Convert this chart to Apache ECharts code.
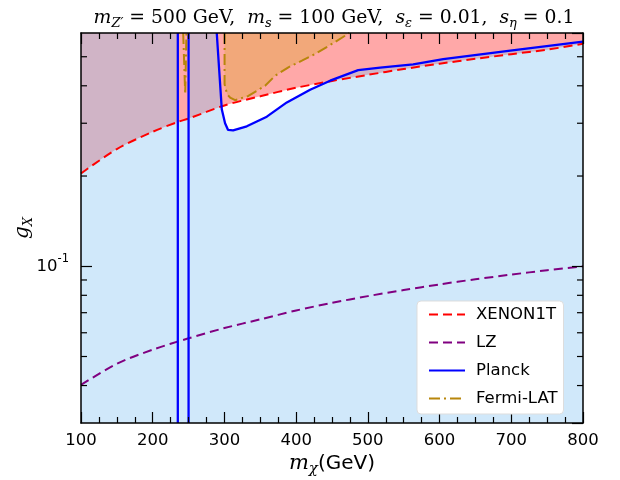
<!DOCTYPE html>
<html><head><meta charset="utf-8">
<script src="https://cdn.jsdelivr.net/npm/echarts@6/dist/echarts.min.js"></script>
<style>html,body{margin:0;padding:0;background:#fff}#c{width:620px;height:480px}</style>
</head><body><div id="c"></div>
<script>
// ---- axis ranges / ticks ----
const xRange = [100, 800];
const yRange = [0.03, 0.6];
const yMajorTick = 0.1;
const yMinorTicks = [0.04, 0.05, 0.06, 0.07, 0.08, 0.09, 0.2, 0.3, 0.4, 0.5];

// ---- XENON1T ----
const xenonX = [100, 150, 200, 235, 250, 300, 350, 400, 450, 500, 550, 600, 650, 700, 750, 800];
const xenonY = [0.204, 0.246, 0.281, 0.303, 0.311, 0.344, 0.369, 0.394, 0.415, 0.435, 0.455, 0.474, 0.492, 0.510, 0.528, 0.552];

// ---- LZ ----
const lzX = [100, 150, 200, 250, 300, 350, 400, 450, 500, 550, 600, 650, 700, 750, 800];
const lzY = [0.0402, 0.0473, 0.0527, 0.0575, 0.0622, 0.0665, 0.0712, 0.0755, 0.0795, 0.0833, 0.0870, 0.0905, 0.0938, 0.0970, 0.1000];

// ---- Planck (resonance funnel edges + right branch) ----
const planckFunnelX = [235, 250];
const planckX = [289.3, 292.6, 296.3, 300.9, 305.1, 312.1, 331.2, 359.1, 387.0, 419.5, 447.4, 486.5, 517.2, 563.2, 605.1, 698.6, 800];
const planckY = [0.6, 0.455, 0.334, 0.300, 0.285, 0.284, 0.293, 0.3155, 0.352, 0.388, 0.416, 0.451, 0.460, 0.4716, 0.491, 0.524, 0.5615];

// ---- Fermi-LAT ----
const fermiX = [300.2, 300.2, 303.7, 307.9, 314.9, 333.4, 356.7, 370.7, 389.2, 408.0, 426.5, 449.8, 468.4, 474.0];
const fermiY = [0.6, 0.405, 0.375, 0.3655, 0.358, 0.370, 0.400, 0.432, 0.461, 0.485, 0.511, 0.5515, 0.588, 0.6];
const fermiNarrowX = [242.5, 245.3, 247.0];
const fermiNarrowY = [0.6, 0.375, 0.6];

// ---- styles ----
const C = {
  xenon: '#ff0000', lz: '#800080', planck: '#0000ff', fermi: '#b8860b',
  pink: '#ffa8a8', orange: '#f2a87a', blueFill: 'rgba(137,197,242,0.4)'
};
const pair = (xs, ys) => xs.map((x, i) => [x, ys[i]]);

function polySeries(pointsFn, fill, z) {
  return {
    type: 'custom', coordinateSystem: 'cartesian2d', silent: true, z: z,
    data: [[xRange[0], yRange[0]]],
    renderItem: function (params, api) {
      return { type: 'polygon', shape: { points: pointsFn().map(p => api.coord(p)) }, style: { fill: fill } };
    }
  };
}

function lightBluePoints() {
  const pts = [[xRange[0], yRange[0]], [xRange[0], yRange[1]], [planckFunnelX[0], yRange[1]]];
  pair(xenonX, xenonY).forEach(p => { if (p[0] >= planckFunnelX[0] && p[0] <= planckFunnelX[1]) pts.push(p); });
  pts.push([planckFunnelX[1], yRange[1]]);
  pair(planckX, planckY).forEach(p => pts.push(p));
  pts.push([xRange[1], yRange[0]]);
  return pts;
}

const lineBase = { type: 'line', symbol: 'none', silent: true, z: 4, animation: false };
const dashed = [9, 5];
const dashDot = [11, 4, 2, 4];

const serif = 'DejaVu Serif';
const sans = 'DejaVu Sans';

const axisLineStyle = { color: '#000', width: 1.5 };
const tickStyle = { color: '#000', width: 1.2 };

const chart = echarts.init(document.getElementById('c'), null, { renderer: 'canvas' });
chart.setOption({
  animation: false,
  backgroundColor: '#fff',
  title: {
    text: '{i|m}{sub|Z′}{n| = 500 GeV,  }{i|m}{sub|s}{n| = 100 GeV,  }{i|s}{sub|ε}{n| = 0.01,  }{i|s}{sub|η}{n| = 0.1}',
    left: 329, top: 1, textAlign: 'center',
    textStyle: {
      fontWeight: 'normal',
      rich: {
        i: { fontFamily: serif, fontStyle: 'italic', fontWeight: 'normal', fontSize: 18.8, color: '#000' },
        n: { fontFamily: serif, fontWeight: 'normal', fontSize: 18.8, color: '#000' },
        sub: { fontFamily: serif, fontStyle: 'italic', fontWeight: 'normal', fontSize: 13, color: '#000', padding: [11, 0, 0, 0] }
      }
    }
  },
  grid: { left: 81, top: 33, width: 502, height: 390, outerBoundsMode: 'none', containLabel: false,
          show: true, backgroundColor: '#fff', borderWidth: 0 },
  legend: {
    data: ['XENON1T', 'LZ', 'Planck', 'Fermi-LAT'],
    orient: 'vertical', left: 417, top: 301,
    itemWidth: 36, itemHeight: 14, itemGap: 11,
    padding: [5, 6, 7, 11],
    backgroundColor: '#fff', borderColor: '#dddddd', borderWidth: 1, borderRadius: 4,
    itemStyle: { opacity: 0, color: 'rgba(0,0,0,0)', borderWidth: 0 },
    textStyle: { fontFamily: sans, fontSize: 16.5, color: '#000', padding: [0, 0, 0, 6] },
    z: 8
  },
  xAxis: [{
    type: 'value', min: xRange[0], max: xRange[1], interval: 100, position: 'bottom', z: 7,
    axisLine: { onZero: false, lineStyle: axisLineStyle },
    axisTick: { inside: true, length: 11, lineStyle: tickStyle },
    minorTick: { show: true, splitNumber: 4, length: 6, lineStyle: tickStyle },
    splitLine: { show: false },
    axisLabel: { color: '#000', fontFamily: sans, fontSize: 16.5, margin: 9 },
    name: '{i|m}{sub|χ}{n|(GeV)}', nameLocation: 'middle', nameGap: 27, nameMoveOverlap: false,
    nameTextStyle: {
      rich: {
        i: { fontFamily: serif, fontStyle: 'italic', fontSize: 21, color: '#000' },
        sub: { fontFamily: serif, fontStyle: 'italic', fontSize: 15, color: '#000', padding: [12, 0, 0, 0] },
        n: { fontFamily: sans, fontSize: 20, color: '#000' }
      }
    }
  }, {
    type: 'value', min: xRange[0], max: xRange[1], interval: 100, position: 'top', z: 7,
    axisLine: { onZero: false, lineStyle: axisLineStyle },
    axisTick: { inside: true, length: 11, lineStyle: tickStyle },
    minorTick: { show: true, splitNumber: 4, length: 6, lineStyle: tickStyle },
    splitLine: { show: false },
    axisLabel: { show: false }
  }],
  yAxis: [{
    type: 'log', logBase: 10, min: yRange[0], max: yRange[1], position: 'left', z: 7,
    axisLine: { onZero: false, lineStyle: axisLineStyle },
    axisTick: { inside: true, length: 11, lineStyle: tickStyle },
    splitLine: { show: false },
    axisLabel: {
      showMinLabel: false, showMaxLabel: false, margin: 12,
      formatter: function (v) { return Math.abs(Math.log10(v) - Math.log10(yMajorTick)) < 1e-6 ? '{b|10}{sup|-1}' : ''; },
      rich: {
        b: { fontFamily: sans, fontSize: 16.5, color: '#000' },
        sup: { fontFamily: sans, fontSize: 11.5, color: '#000', padding: [0, 0, 14, 0] }
      }
    },
    name: '{i|g}{sub|X}', nameLocation: 'middle', nameGap: 46, nameRotate: 90, nameMoveOverlap: false,
    nameTextStyle: {
      rich: {
        i: { fontFamily: serif, fontStyle: 'italic', fontSize: 20, color: '#000' },
        sub: { fontFamily: serif, fontStyle: 'italic', fontSize: 13, color: '#000', padding: [12, 0, 0, 0] }
      }
    }
  }, {
    type: 'log', logBase: 10, min: yRange[0], max: yRange[1], position: 'right', z: 7,
    axisLine: { onZero: false, lineStyle: axisLineStyle },
    axisTick: { inside: true, length: 11, lineStyle: tickStyle },
    splitLine: { show: false },
    axisLabel: { show: false }
  }],
  series: [
    // pink: excluded above XENON1T
    Object.assign({}, lineBase, { data: pair(xenonX, xenonY), z: 1, smooth: 0.3, lineStyle: { opacity: 0 },
      areaStyle: { origin: 'end', color: C.pink, opacity: 1 } }),
    // Fermi-LAT excluded region
    polySeries(() => pair(fermiX, fermiY), C.orange, 2),
    // Planck region (light blue, translucent)
    polySeries(lightBluePoints, C.blueFill, 3),
    // lines
    Object.assign({}, lineBase, { name: 'XENON1T', data: pair(xenonX, xenonY), color: C.xenon, smooth: 0.3,
      lineStyle: { color: C.xenon, width: 2, type: dashed } }),
    Object.assign({}, lineBase, { name: 'LZ', data: pair(lzX, lzY), color: C.lz, smooth: 0.3,
      lineStyle: { color: C.lz, width: 2, type: dashed } }),
    Object.assign({}, lineBase, { name: 'Planck', data: pair(planckX, planckY), color: C.planck,
      lineStyle: { color: C.planck, width: 2.3 } }),
    Object.assign({}, lineBase, { name: 'Planck', data: [[planckFunnelX[0], yRange[0]], [planckFunnelX[0], yRange[1]]], color: C.planck,
      lineStyle: { color: C.planck, width: 2.3 } }),
    Object.assign({}, lineBase, { name: 'Planck', data: [[planckFunnelX[1], yRange[0]], [planckFunnelX[1], yRange[1]]], color: C.planck,
      lineStyle: { color: C.planck, width: 2.3 } }),
    Object.assign({}, lineBase, { name: 'Fermi-LAT', data: pair(fermiX, fermiY), color: C.fermi,
      lineStyle: { color: C.fermi, width: 2, type: dashDot } }),
    Object.assign({}, lineBase, { name: 'Fermi-LAT', data: pair(fermiNarrowX, fermiNarrowY), color: C.fermi,
      lineStyle: { color: C.fermi, width: 2, type: dashDot } }),
    // y minor ticks (left and right frame)
    {
      type: 'custom', silent: true, z: 6,
      data: yMinorTicks.map(v => [xRange[0], v]),
      renderItem: function (params, api) {
        const v = api.value(1);
        const a = api.coord([xRange[0], v]);
        const b = api.coord([xRange[1], v]);
        return { type: 'group', children: [
          { type: 'line', shape: { x1: a[0], y1: a[1], x2: a[0] + 6, y2: a[1] }, style: { stroke: '#000', lineWidth: 1.2 } },
          { type: 'line', shape: { x1: b[0] - 6, y1: b[1], x2: b[0], y2: b[1] }, style: { stroke: '#000', lineWidth: 1.2 } }
        ] };
      }
    }
  ]
});
</script></body></html>
